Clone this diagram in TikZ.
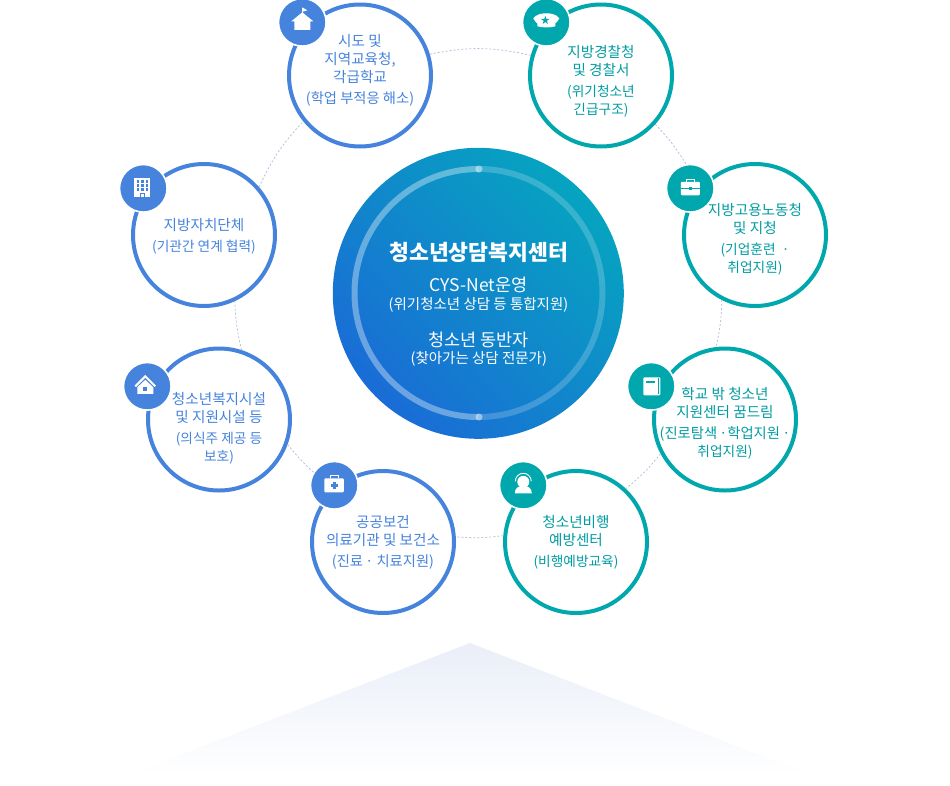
\documentclass[tikz,border=0pt]{standalone}
\usepackage{fontspec}
\setmainfont{Noto Sans CJK KR}
\usetikzlibrary{calc}
\definecolor{bluec}{HTML}{4583DD}
\definecolor{tealc}{HTML}{00A7AC}
\definecolor{tealt}{HTML}{009CA2}
\definecolor{dotc}{HTML}{B4C0DA}
\definecolor{hubA}{HTML}{1A6CD6}
\definecolor{hubB}{HTML}{06A4C0}
\definecolor{triA}{HTML}{E9EEF8}
\tikzset{
  orgB/.style={circle,draw=bluec,line width=4pt,fill=white,minimum size=142pt,inner sep=0pt},
  orgT/.style={circle,draw=tealc,line width=4pt,fill=white,minimum size=142pt,inner sep=0pt},
  badgeB/.style={circle,fill=bluec,draw=white,line width=1.6pt,minimum size=47.6pt,inner sep=0pt},
  badgeT/.style={circle,fill=tealc,draw=white,line width=1.6pt,minimum size=47.6pt,inner sep=0pt},
  txtB/.style={align=center,text=bluec,font=\fontsize{14.6}{18}\selectfont,inner sep=0pt},
  txtT/.style={align=center,text=tealt,font=\fontsize{14.6}{18}\selectfont,inner sep=0pt},
  ringlink/.style={draw=dotc,line width=0.8pt,dash pattern=on 2pt off 2pt},
  hubtxt/.style={align=center,text=white,inner sep=0pt},
}
\newcommand{\subl}{\fontsize{13.7}{18}\selectfont}
\newcommand{\subw}{\fontsize{14.3}{18}\selectfont}
\begin{document}
\begin{tikzpicture}[x=1pt,y=-1pt]
\useasboundingbox (0,0) rectangle (950,785);
% pedestal
\shade[top color=triA,bottom color=white] (470,643) -- (812,775) -- (128,775) -- cycle;
% hub
\node[circle,minimum size=291pt,inner sep=0pt,bottom color=hubA,top color=hubB,shading angle=-45] (hub) at (478.3,293.3) {};
\draw[white,opacity=.36,line width=6pt] (478.5,169) arc[start angle=-90,end angle=-270,radius=124];
\draw[white,opacity=.2,line width=6pt] (478.5,169) arc[start angle=-90,end angle=90,radius=124];
\fill[white,opacity=.45] (479,169) circle[radius=3.5];
\fill[white,opacity=.45] (479,417) circle[radius=3.5];
\node[hubtxt,font=\fontsize{21.6}{24}\bfseries\selectfont] (hubtitle) at (478.8,252.5) {청소년상담복지센터};
\node[hubtxt,font=\fontsize{17.5}{20}\selectfont] (hubA1) at (478.5,285) {CYS-Net운영};
\node[hubtxt,font=\fontsize{14.5}{18}\selectfont] (hubA2) at (478.5,304.5) {(위기청소년 상담 등 통합지원)};
\node[hubtxt,font=\fontsize{17.5}{20}\selectfont] (hubB1) at (478.5,340) {청소년 동반자};
\node[hubtxt,font=\fontsize{14.5}{18}\selectfont] (hubB2) at (478.8,359) {(찾아가는 상담 전문가)};
% organisation circles
\node[orgB] (a) at (360,75.5) {};
\node[orgT] (b) at (601,75.5) {};
\node[orgT] (c) at (755,235) {};
\node[orgT] (d) at (725,419.5) {};
\node[orgT] (e) at (576,542) {};
\node[orgB] (f) at (383,542) {};
\node[orgB] (g) at (219,419.5) {};
\node[orgB] (h) at (204,235) {};
% badges
\node[badgeB] (ai) at (302.3,22.3) {};
\node[badgeT] (bi) at (546.3,22.3) {};
\node[badgeT] (ci) at (690.3,188.3) {};
\node[badgeT] (di) at (651.3,386.3) {};
\node[badgeT] (ei) at (523.3,485.3) {};
\node[badgeB] (fi) at (334.3,485.3) {};
\node[badgeB] (gi) at (147.3,386.3) {};
\node[badgeB] (hi) at (143.3,188.3) {};
% dotted ring connectors
\draw[ringlink] (h.41.9) to[bend left=9.2] (a.219.7);
\draw[ringlink] (a.17.3) to[bend left=12] (b.164);
\draw[ringlink] (b.-42.8) to[bend left=6.1] (ci.100);
\draw[ringlink] (c.243.1) to[bend left=5.5] (d.97.2);
\draw[ringlink] (d.208.5) to[bend left=5.8] (e.47.9);
\draw[ringlink] (e.175) to[bend left=5.6] (f.4.7);
\draw[ringlink] (fi.148.5) to[bend left=4.1] (g.-20.6);
\draw[ringlink] (g.72.9) to[bend left=5.7] (h.-65.6);
% texts
\node[txtB] (at) at (360,70) {시도 및\\지역교육청,\\각급학교\\[3pt]{\subw (학업 부적응 해소)}};
\node[txtT] (bt) at (601,81) {지방경찰청\\및 경찰서\\[3pt]{\subl (위기청소년}\\{\subl 긴급구조)}};
\node[txtT] (ct) at (755,239) {지방고용노동청\\및 지청\\[3pt]{\subl (기업훈련 ~·}\\{\subl 취업지원)}};
\node[txtT] (dt) at (725,423) {학교 밖 청소년\\지원센터 꿈드림\\[3pt]{\subw (진로탐색 \kern-1pt·학업지원 \kern-1pt·}\\{\subl 취업지원)}};
\node[txtT] (et) at (576,542.5) {청소년비행\\예방센터\\[3pt]{\subl (비행예방교육)}};
\node[txtB] (ft) at (383,542) {공공보건\\의료기관 및 보건소\\[3pt]{\subw (진료 \kern-1pt· 치료지원)}};
\node[txtB] (gt) at (219,428) {청소년복지시설\\및 지원시설 등\\[3pt]{\subl (의식주 제공 등}\\{\subl 보호)}};
\node[txtB] (ht) at (204,236) {지방자치단체\\[3pt]{\subl (기관간 연계 협력)}};
% icon: school
\begin{scope}[shift={(ai.center)}]
\fill[white] (0,-10) -- (11,-1) -- (8,-1) -- (8,7.5) -- (-8,7.5) -- (-8,-1) -- (-11,-1) -- cycle;
\draw[white,line width=1pt] (0,-9) -- (0,-14);
\fill[white] (0,-15) -- (5,-12) -- (0,-10.5) -- cycle;
\end{scope}
% icon: police cap
\begin{scope}[shift={(bi.center)}]
\fill[white] (-13,-4) .. controls (-10,-8) and (-5,-9) .. (0,-9) .. controls (5,-9) and (10,-8) .. (13,-4) .. controls (12,-1) and (10,0) .. (9,1) -- (9,4) .. controls (4,5.5) and (-4,5.5) .. (-9,4) -- (-9,1) .. controls (-10,0) and (-12,-1) .. (-13,-4) -- cycle;
\fill[tealc] (-1,-6.5) -- (1.6,1.6) -- (-5.3,-3.4) -- (3.3,-3.4) -- (-3.6,1.6) -- cycle;
\end{scope}
% icon: briefcase
\begin{scope}[shift={(ci.center)}]
\draw[white,line width=1.4pt] (-4,-6) -- (-4,-9) -- (4,-9) -- (4,-6);
\fill[white,rounded corners=1pt] (-9.5,-6.5) rectangle (9.5,7);
\draw[tealc,line width=.8pt] (-9.5,0) -- (9.5,0);
\fill[tealc] (-1.5,-1) rectangle (1.5,1.5);
\end{scope}
% icon: book
\begin{scope}[shift={(di.center)}]
\fill[white,rounded corners=1pt] (-8,-9) rectangle (9,9);
\fill[tealc] (-5,-5.5) rectangle (4,-3);
\draw[tealc,line width=.6pt] (7,-8) -- (7,8);
\end{scope}
% icon: counsellor
\begin{scope}[shift={(ei.center)}]
\draw[white,line width=.9pt] (-8,-4) arc[start angle=180,end angle=360,x radius=8,y radius=8];
\fill[white] (0,-3.5) circle[radius=6];
\fill[white] (-8.5,8) .. controls (-8.5,3) and (-5,1) .. (-2.5,1) -- (2.5,1) .. controls (5,1) and (8.5,3) .. (8.5,8) -- cycle;
\end{scope}
% icon: medical kit
\begin{scope}[shift={(fi.center)}]
\draw[white,line width=1.4pt] (-4,-7) -- (-4,-10) -- (4,-10) -- (4,-7);
\fill[white,rounded corners=1pt] (-10,-7) rectangle (9.5,7);
\fill[bluec] (-1.2,-3) rectangle (1.2,3.5);
\fill[bluec] (-3.2,-1) rectangle (3.2,1.5);
\end{scope}
% icon: house
\begin{scope}[shift={(gi.center)}]
\draw[white,line width=2pt] (-12,0) -- (-2,-10) -- (8,0);
\fill[white] (-2,-6.5) -- (6,1) -- (6,7.5) -- (-10,7.5) -- (-10,1) -- cycle;
\fill[bluec] (-4,1) rectangle (0,5);
\end{scope}
% icon: office building
\begin{scope}[shift={(hi.center)}]
\fill[white] (-9,-10) rectangle (7,9);
\foreach \cx in {-6.5,-2,2.5}{
  \foreach \cy in {-8,-4,0}{
    \fill[bluec] (\cx,\cy) rectangle ++(2.2,2.2);
  }
}
\fill[bluec] (-3.5,5) rectangle (-2.5,9);
\fill[bluec] (0.5,5) rectangle (1.5,9);
\fill[bluec] (-3.5,4.2) rectangle (1.5,5);
\end{scope}
\end{tikzpicture}
\end{document}
